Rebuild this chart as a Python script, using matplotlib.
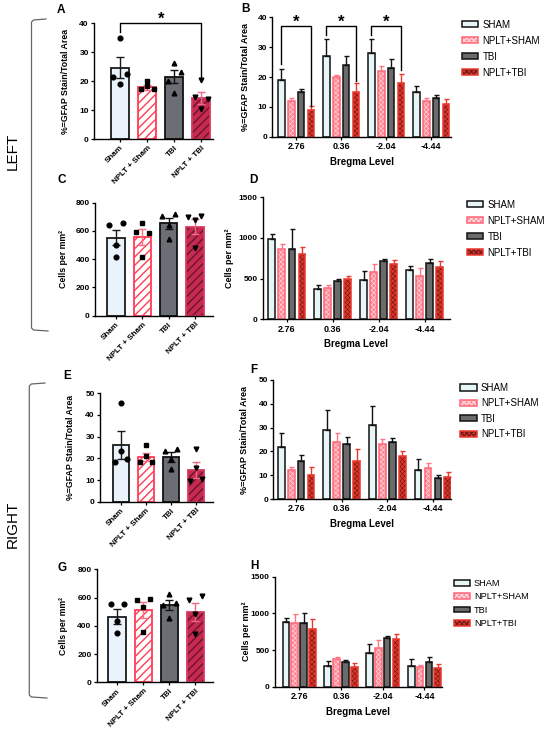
import numpy as np
import matplotlib
matplotlib.use('Agg')
import matplotlib.pyplot as plt
from matplotlib.patches import Patch
from matplotlib.lines import Line2D

plt.rcParams['font.family'] = ['Liberation Sans', 'DejaVu Sans']
plt.rcParams['hatch.linewidth'] = 0.9

W, H = 550, 736

groups = ['Sham', 'NPLT + Sham', 'TBI', 'NPLT + TBI']
legend_labels = ['SHAM', 'NPLT+SHAM', 'TBI', 'NPLT+TBI']
bregma = ['2.76', '0.36', '-2.04', '-4.44']

# A - left, GFAP area
a_mean = [24.7, 17.9, 21.5, 14.3]
a_sem = [3.6, 0.8, 2.3, 2.1]
a_pts = [[35, 21.5, 22.5, 19], [20.2, 17.2, 17.2, 18.3],
         [26.2, 20.0, 23.3, 16.0], [20.4, 14.5, 14.0, 10.3]]

# C - left, cells
c_mean = [552, 557, 653, 630]
c_sem = [54, 54, 40, 54]
c_pts = [[500, 641, 658, 417], [658, 590, 583, 413],
         [642, 708, 717, 540], [677, 696, 708, 476]]

# E - right, GFAP area
e_mean = [26.2, 20.8, 20.5, 14.6]
e_sem = [6.6, 1.8, 2.3, 3.6]
e_pts = [[45.4, 18.3, 19.5, 23.5], [26.2, 18.3, 18.3, 21.1],
         [19.7, 23.5, 24.2, 15.2], [24.5, 9.5, 10.5, 15.5]]

# G - right, cells
g_mean = [465, 512, 547, 498]
g_sem = [52, 59, 38, 66]
g_pts = [[434, 554, 554, 347], [535, 583, 590, 354],
         [623, 547, 559, 453], [483, 583, 611, 340]]

# B - left GFAP by bregma (rows: SHAM, NPLT+SHAM, TBI, NPLT+TBI)
b_mean = [[19.0, 27.0, 28.0, 14.9], [12.0, 20.0, 22.0, 12.0],
          [14.9, 23.9, 22.9, 13.0], [9.0, 14.9, 18.0, 11.0]]
b_err = [[3.7, 5.6, 4.6, 2.2], [0.8, 0.8, 1.6, 1.0],
         [1.2, 3.0, 3.2, 1.0], [1.3, 3.0, 3.1, 1.7]]

# D - left cells by bregma
d_mean = [[988, 369, 484, 607], [861, 389, 582, 537],
          [869, 471, 713, 689], [803, 492, 676, 643]]
d_err = [[61, 49, 114, 49], [65, 29, 98, 90],
         [245, 29, 29, 53], [90, 45, 49, 70]]

# F - right GFAP by bregma
f_mean = [[22.0, 29.0, 31.0, 12.0], [12.0, 24.1, 23.0, 13.0],
          [16.0, 23.0, 23.9, 9.0], [9.9, 16.1, 18.1, 9.1]]
f_err = [[5.7, 8.5, 8.1, 4.7], [1.3, 3.5, 2.1, 2.1],
         [2.3, 2.9, 1.6, 1.1], [3.4, 5.0, 2.1, 2.1]]

# H - right cells by bregma
h_mean = [[886, 286, 455, 282], [864, 382, 527, 264],
          [873, 336, 659, 341], [782, 273, 645, 250]]
h_err = [[46, 64, 127, 95], [122, 18, 109, 31],
         [136, 28, 32, 64], [141, 50, 69, 55]]

gfap_label = '%=GFAP Stain/Total Area'
cells_label = 'Cells per mm\u00b2'

bar_styles = [
    dict(face='#eaf3fb', hatch=None, hcol=None, hlw=1, edge='#1a1a1a', err='#1a1a1a'),
    dict(face='white', hatch='////', hcol='#ff3d57', hlw=1.0, edge='#ff3d57', err='#ff6b7e'),
    dict(face='#6c6e75', hatch=None, hcol=None, hlw=1, edge='#111111', err='#111111'),
    dict(face='#c62a50', hatch='////', hcol='#6a1530', hlw=1.0, edge='#d83a5e', err='#ee6b85'),
]
group_styles = [
    dict(face='#e6f5f5', hatch=None, hcol=None, hlw=1, edge='#111111', err='#111111'),
    dict(face='#ff8795', hatch='xxxxxxx', hcol='#ffd8dc', hlw=0.45, edge='#ff6577', err='#ff7584'),
    dict(face='#6b6b6b', hatch=None, hcol=None, hlw=1, edge='#111111', err='#111111'),
    dict(face='#e2352a', hatch='xxxxxxx', hcol='#6d1a1a', hlw=0.45, edge='#e8392d', err='#e8392d'),
]
markers = ['o', 's', '^', 'v']
jitter = np.array([0, -0.25, 0.25, 0])

HAS_HLW = hasattr(Patch, 'set_hatch_linewidth')

fig = plt.figure(figsize=(W / 100, H / 100), dpi=100)


def add_ax(l, r, t, b):
    return fig.add_axes([l / W, 1 - b / H, (r - l) / W, (b - t) / H])


def hatch_kw(st):
    kw = dict(hatch=st['hatch'])
    if HAS_HLW:
        kw['hatch_linewidth'] = st['hlw']
    return kw


def layered_bar(ax, x, h, w, st, lw):
    ax.bar(x, h, w, color=st['face'], edgecolor='none', linewidth=0, zorder=2)
    if st['hatch']:
        ax.bar(x, h, w, color='none', edgecolor=st['hcol'], linewidth=0,
               zorder=2.1, **hatch_kw(st))
    ax.bar(x, h, w, color='none', edgecolor=st['edge'], linewidth=lw, zorder=2.2)


def style_axes(ax, ymax, ystep, ylabel, lx, ylsize):
    ax.set_ylim(0, ymax)
    ticks = np.arange(0, ymax + 1e-9, ystep)
    ax.set_yticks(ticks, labels=[str(int(t)) for t in ticks],
                  fontsize=6, fontweight='bold')
    for s in ['top', 'right']:
        ax.spines[s].set_visible(False)
    for s in ['left', 'bottom']:
        ax.spines[s].set_linewidth(1.0)
    ax.tick_params(direction='out', length=2.3, width=0.9, pad=1.5)
    ax.set_ylabel(ylabel, fontsize=ylsize, fontweight='bold')
    ax.yaxis.set_label_coords(lx, 0.5)


def bar_panel(ax, mean, sem, pts, ymax, ystep, ylabel, xlim, lx):
    x = np.arange(len(groups))
    for i, st in enumerate(bar_styles):
        layered_bar(ax, x[i], mean[i], 0.66, st, 1.3)
        ax.errorbar(x[i], mean[i], yerr=sem[i], fmt='none', ecolor=st['err'],
                    capsize=3.2, elinewidth=1, capthick=1, zorder=4)
        ax.plot(x[i] + jitter, pts[i], ls='none', marker=markers[i], ms=3.4,
                color='black', zorder=5, clip_on=False)
    ax.set_xlim(*xlim)
    ax.set_xticks(x, labels=groups, rotation=45, ha='right',
                  rotation_mode='anchor', fontsize=5.8, fontweight='bold')
    style_axes(ax, ymax, ystep, ylabel, lx, 6.3)


def group_panel(ax, means, errs, ymax, ystep, ylabel, xlim, lx,
                step=0.218, width=0.148):
    pos = np.arange(len(bregma))
    for i, st in enumerate(group_styles):
        xs = pos + (i - 1.5) * step
        layered_bar(ax, xs, means[i], width, st, 1.1)
        ax.errorbar(xs, means[i], yerr=[np.zeros(len(pos)), errs[i]], fmt='none',
                    ecolor=st['err'], capsize=1.8, elinewidth=1, capthick=1,
                    zorder=4)
    ax.set_xlim(*xlim)
    ax.set_xticks(pos, labels=bregma, fontsize=6.5, fontweight='bold')
    ax.set_xlabel('Bregma Level', fontsize=7, fontweight='bold', labelpad=4)
    style_axes(ax, ymax, ystep, ylabel, lx, 6.5)


def add_legend(ax, x, y, fs, ls):
    handles = []
    for st in group_styles:
        parts = [Patch(facecolor=st['face'], edgecolor='none', linewidth=0)]
        if st['hatch']:
            parts.append(Patch(facecolor='none', edgecolor=st['hcol'],
                               linewidth=0, **hatch_kw(st)))
        parts.append(Patch(facecolor='none', edgecolor=st['edge'], linewidth=1.1))
        handles.append(tuple(parts))
    ax.legend(handles, legend_labels, loc='upper left',
              bbox_to_anchor=(x / W, 1 - y / H), bbox_transform=fig.transFigure,
              frameon=False, fontsize=fs, handlelength=1.7, handleheight=0.6,
              handletextpad=0.45, labelspacing=ls, borderpad=0, borderaxespad=0)


# A
axA = add_ax(94, 213, 23.3, 139)
bar_panel(axA, a_mean, a_sem, a_pts, 40, 10, gfap_label, (-0.97, 3.43), -0.2)
axA.plot([0, 0, 3, 3], [37, 40, 40, 21.5], color='black', lw=1, clip_on=False)
axA.text(1.5, 41.3, '*', fontsize=12, fontweight='bold', ha='center', va='center')

# B
axB = add_ax(272.3, 451, 17.3, 136.7)
group_panel(axB, b_mean, b_err, 40, 10, gfap_label, (-0.53, 3.44), -0.125)
for g, top, lo_l, lo_r in [(0, 37, 24.5, 10.2), (1, 37, 34, 18.5), (2, 37, 34, 22.5)]:
    xl, xr = g - 1.5 * 0.218, g + 1.5 * 0.218
    axB.plot([xl, xl, xr, xr], [lo_l, top, top, lo_r], color='black', lw=1,
             clip_on=False, zorder=6)
    axB.text(g, 38.5, '*', fontsize=12, fontweight='bold', ha='center', va='center')
add_legend(axB, 461.7, 19.5, 7, 0.62)

# C
axC = add_ax(95, 213.3, 202.7, 315.7)
bar_panel(axC, c_mean, c_sem, c_pts, 800, 200, cells_label, (-0.8, 3.7), -0.228)

# D
axD = add_ax(263, 450, 197.3, 319.3)
group_panel(axD, d_mean, d_err, 1500, 500, cells_label, (-0.52, 3.55), -0.155)
add_legend(axD, 466.7, 199.5, 7, 0.62)

# E
axE = add_ax(100, 213, 393.3, 501.7)
bar_panel(axE, e_mean, e_sem, e_pts, 50, 10, gfap_label, (-0.84, 3.68), -0.22)

# F
axF = add_ax(273.3, 450.7, 380, 499)
group_panel(axF, f_mean, f_err, 50, 10, gfap_label, (-0.5, 3.39), -0.135)
add_legend(axF, 460, 383, 7, 0.55)

# G
axG = add_ax(96.7, 213, 569.3, 682.3)
bar_panel(axG, g_mean, g_sem, g_pts, 800, 200, cells_label, (-0.78, 3.68), -0.247)

# H
axH = add_ax(275, 442, 576.7, 686.7)
group_panel(axH, h_mean, h_err, 1500, 500, cells_label, (-0.58, 3.42), -0.144,
            step=0.212, width=0.16)
add_legend(axH, 454, 579, 6.7, 0.47)

# panel letters
for lab, x, y in [('A', 61, 10), ('B', 245, 9), ('C', 62, 180), ('D', 253, 180),
                  ('E', 67, 376), ('F', 254, 370), ('G', 62, 568), ('H', 254, 566)]:
    fig.text(x / W, 1 - y / H, lab, fontsize=8.5, fontweight='bold',
             ha='center', va='center')

# side labels and brackets
fig.text(13 / W, 1 - 151 / H, 'LEFT', fontsize=11, rotation=90,
         ha='center', va='center')
fig.text(13 / W, 1 - 524 / H, 'RIGHT', fontsize=11, rotation=90,
         ha='center', va='center')


def bracket(x, top, bot, x_end):
    xs = [x_end, x + 2, x, x, x + 2, x_end + 2]
    ys = [top - 1, top, top + 2, bot - 2, bot, bot + 1]
    fig.add_artist(Line2D(np.array(xs) / W, 1 - np.array(ys) / H,
                          transform=fig.transFigure, color='#666666', lw=0.9))


bracket(31.5, 20, 330, 46)
bracket(29.3, 384, 697, 45)

fig.savefig('out.png', dpi=100)
